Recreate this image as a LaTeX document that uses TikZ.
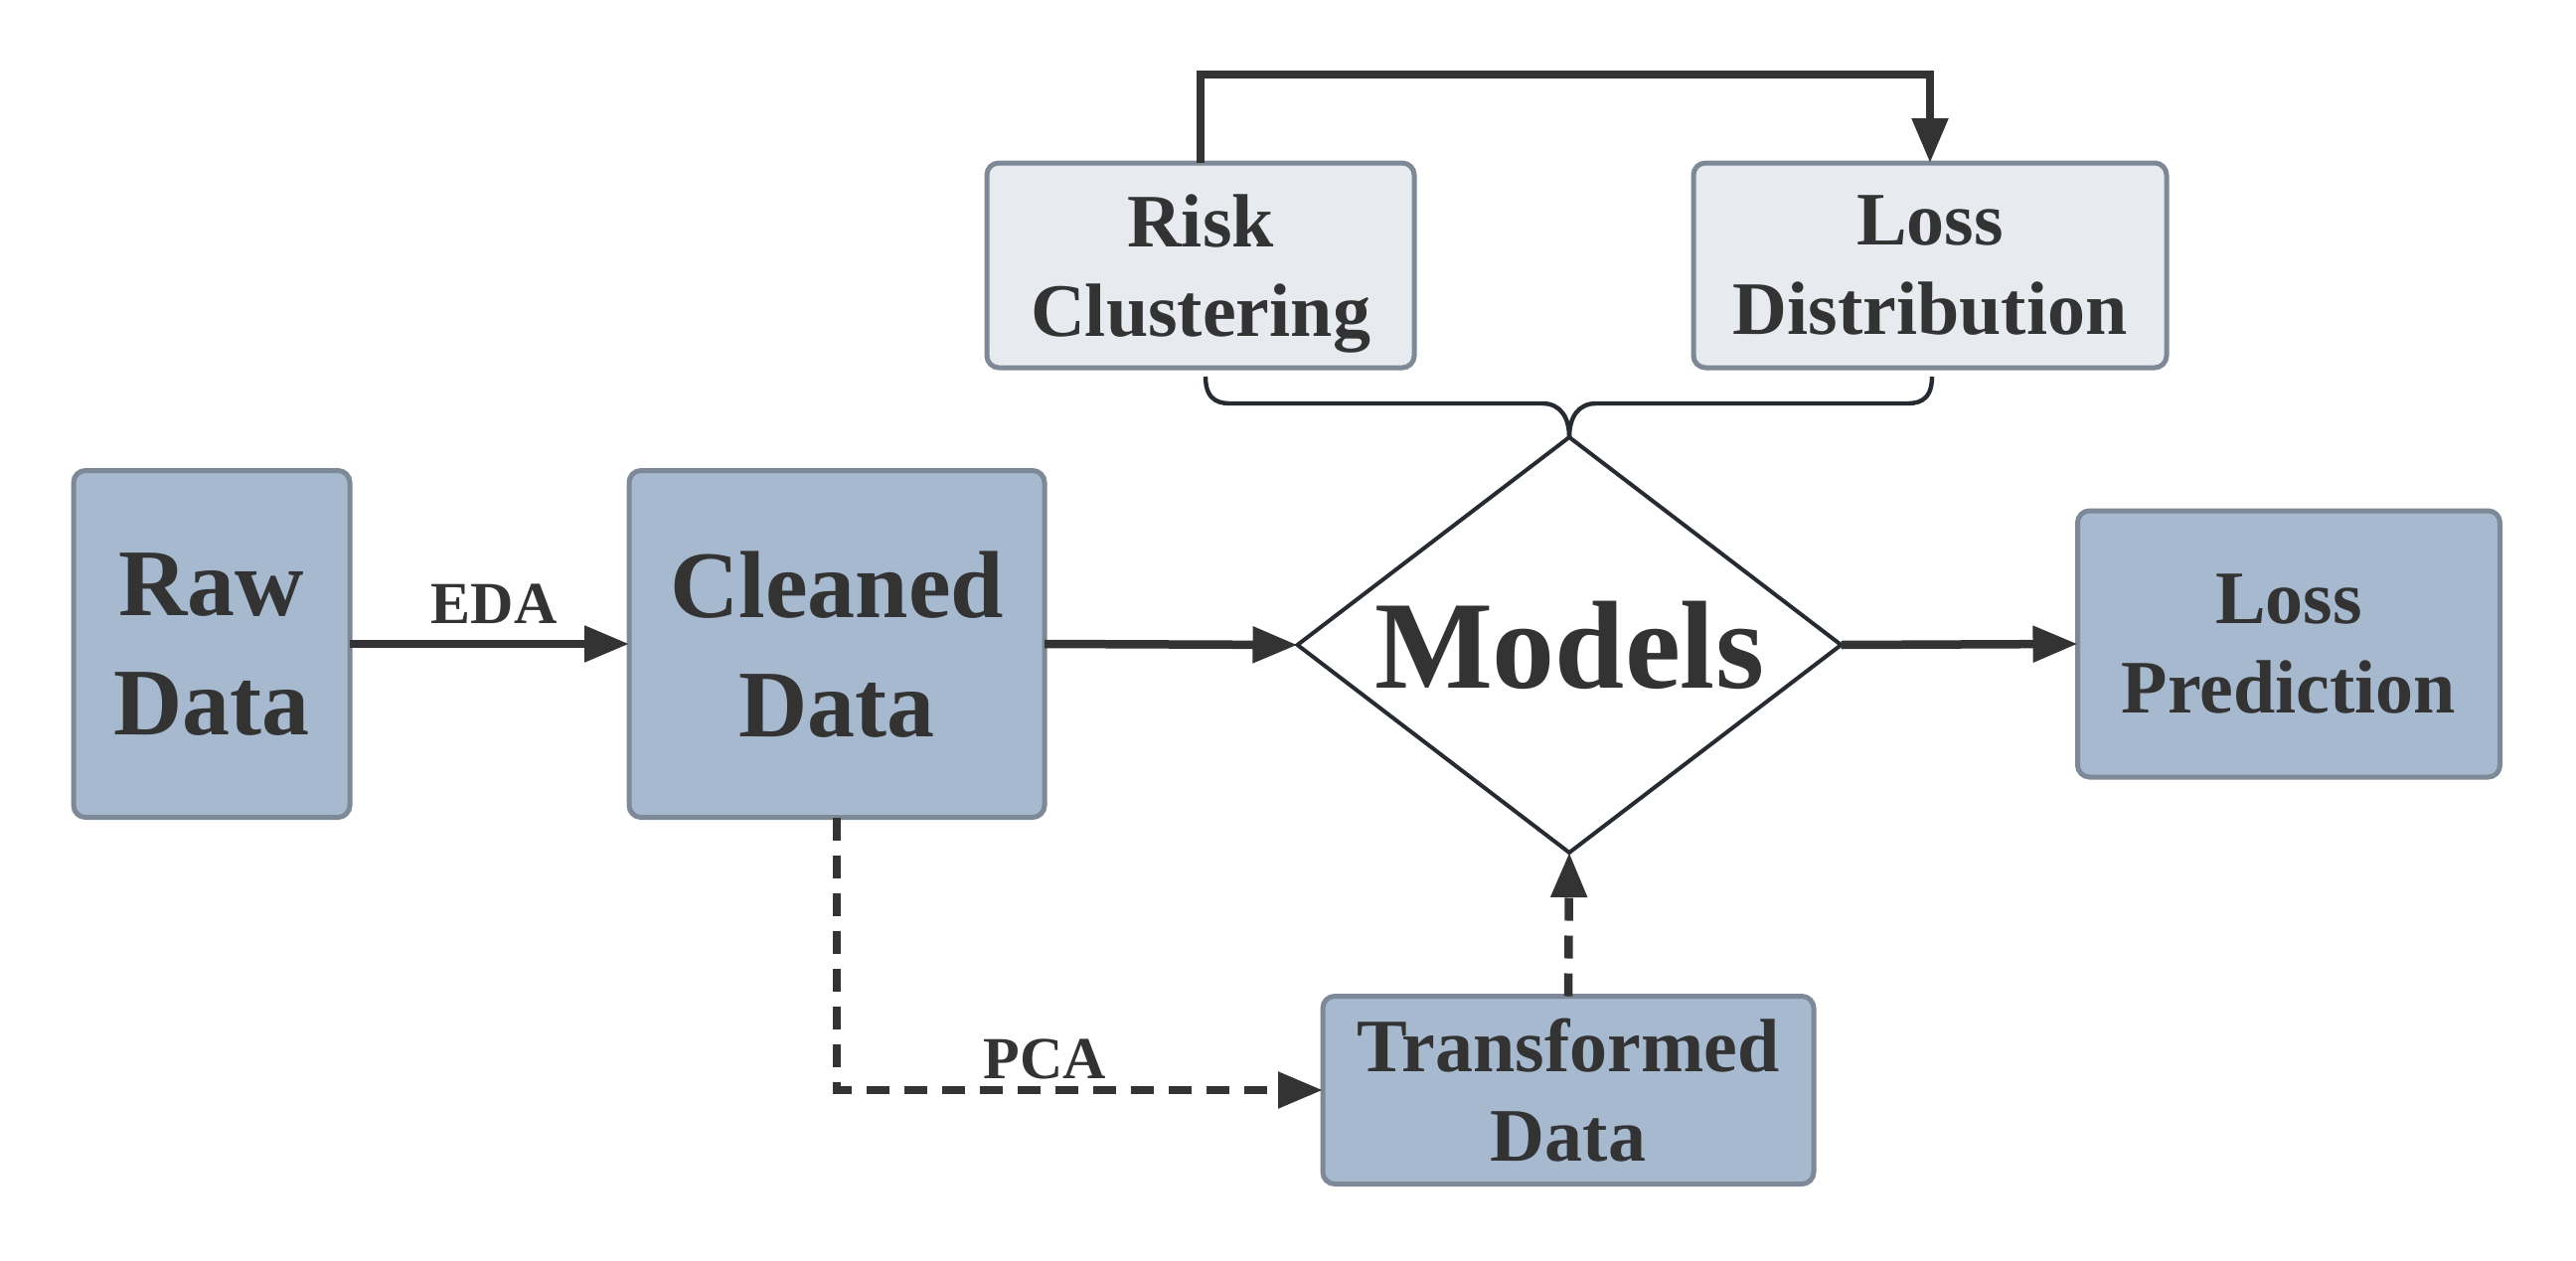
\documentclass[tikz,border=0pt]{standalone}
\usepackage{fontspec}
\setmainfont{Liberation Serif}
\usetikzlibrary{arrows.meta,shapes.geometric,calc}
\definecolor{ink}{HTML}{333333}
\definecolor{edgeink}{HTML}{262B31}
\definecolor{boxfill}{HTML}{A6B9CF}
\definecolor{boxline}{HTML}{7E8997}
\definecolor{lightfill}{HTML}{E7EBEF}
\tikzset{
  databox/.style={draw=boxline, line width=2.5pt, fill=boxfill, rounded corners=6pt,
    align=center, text=ink, inner sep=0pt, outer sep=0pt, text depth=0pt},
  stagebox/.style={databox, fill=lightfill},
  bigtext/.style={font=\fontsize{48}{60}\selectfont\bfseries},
  midtext/.style={font=\fontsize{38}{45}\selectfont\bfseries},
  labeltext/.style={font=\fontsize{30}{36}\selectfont\bfseries, text=ink, inner sep=0pt},
  flow/.style={draw=ink, line width=4.25pt, -{Triangle[length=22.5pt,width=17.5pt]}},
  dashflow/.style={flow, dash pattern=on 11.5pt off 7.5pt},
  bracket/.style={draw=edgeink, line width=2.2pt},
}
\begin{document}
\begin{tikzpicture}[x=0.5pt,y=-0.5pt]
\useasboundingbox (0,0) rectangle (2592,1269);

% main pipeline
\node[databox, bigtext, minimum width=139pt, minimum height=174.5pt] (raw) at (213,648) {Raw\\Data};
\node[databox, bigtext, minimum width=209pt, minimum height=174.5pt] (cleaned) at (842,648) {Cleaned\\Data};
\node[diamond, aspect=1.309, draw=edgeink, line width=2pt, fill=white, minimum width=273.5pt, minimum height=209pt,
      inner sep=0pt, outer sep=0pt, text=ink, font=\fontsize{63}{70}\selectfont\bfseries] (models) at (1579,649) {Models};
\node[databox, midtext, minimum width=212.5pt, minimum height=134pt] (losspred) at (2303,648) {Loss\\Prediction};

% modelling stages
\node[stagebox, midtext, minimum width=215pt, minimum height=103pt] (risk) at (1208,267) {Risk\\Clustering};
\node[stagebox, midtext, minimum width=238pt, minimum height=103pt] (lossdist) at (1942,267) {Loss\\Distribution};

% dimensionality reduction branch
\node[databox, midtext, minimum width=247pt, minimum height=94.5pt] (transformed) at (1578,1097) {Transformed\\Data};

% connectors
\draw[flow] (raw.east) -- (cleaned.west);
\node[labeltext, anchor=base] (eda) at (497,627) {EDA};
\draw[flow] (cleaned.east) -- (models.west);
\draw[flow] (models.east) -- (losspred.west);
\draw[dashflow] (cleaned.south) |- (transformed.west);
\node[labeltext, anchor=base] (pca) at (1051,1085) {PCA};
\draw[dashflow] (transformed.north) -- (models.south);
\draw[flow] (risk.north) -- ++(0,-89) -| (lossdist.north);

% bracket joining both stages into the models
\coordinate (bl) at ($(risk.south)+(5,9)$);
\coordinate (br) at ($(lossdist.south)+(2,9)$);
\coordinate (bm) at (models.north |- bl);
\draw[bracket] (bl) .. controls +(0,27) and +(-10,0) .. ($(bl)+(27,27)$)
  -- ($(bm)+(-27,27)$) .. controls +(18,0) and +(0,-20) .. (models.north);
\draw[bracket] (br) .. controls +(0,27) and +(10,0) .. ($(br)+(-27,27)$)
  -- ($(bm)+(27,27)$) .. controls +(-18,0) and +(0,-20) .. (models.north);
\end{tikzpicture}
\end{document}
